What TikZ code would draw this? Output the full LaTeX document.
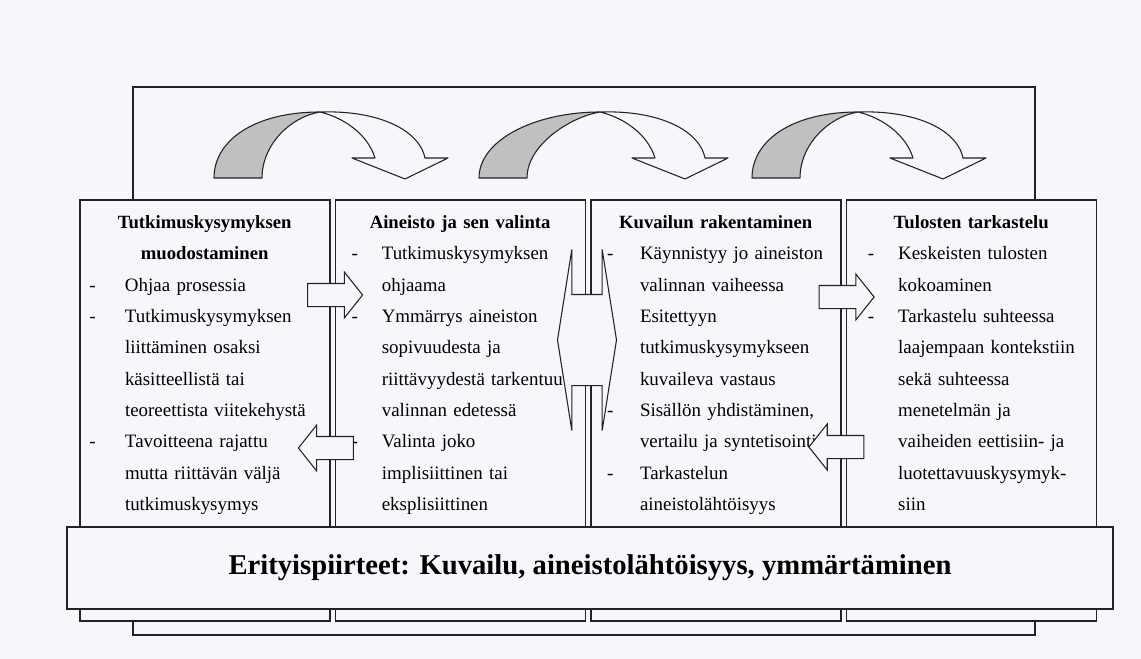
\documentclass[tikz,border=0pt]{standalone}
\usepackage{fontspec}
\setmainfont{Liberation Serif}
\usetikzlibrary{shapes.arrows}

\definecolor{paper}{RGB}{246,246,251}
\definecolor{ink}{RGB}{35,35,35}
\definecolor{shade}{RGB}{192,192,192}

\newcommand\dashgap{20pt}
\newcommand\heading[1]{{\centering\bfseries\fontsize{14}{23.5}\selectfont #1\par}}
\newcommand\dashline{\par\noindent\llap{-\hspace{\dashgap}}}
\newcommand\moreline{\par\noindent}

\begin{document}
\begin{tikzpicture}[x=0.75pt, y=-0.75pt,
    phase/.style={draw=ink, line width=0.9pt, fill=paper, inner sep=0pt,
      minimum width=187.5pt, minimum height=315.75pt},
    phasetext/.style 2 args={anchor=north west, inner sep=0pt, text width=187.5pt,
      font=\fontsize{14.2}{23.5}\selectfont,
      execute at begin node={\raggedright\setlength\parindent{0pt}%
        \setlength\parfillskip{0pt plus 1fil}\setlength\leftskip{#1}\def\dashgap{#2}}},
    band/.style={draw=ink, line width=0.9pt, fill=paper, inner sep=0pt,
      minimum width=784.5pt, minimum height=61.5pt, font=\fontsize{21.5}{26}\selectfont\bfseries},
    blockarrow/.style={single arrow, draw=ink, line width=0.8pt, fill=paper,
      inner xsep=0pt, inner ysep=8.25pt, single arrow head extend=8.6pt,
      minimum height=41.25pt, single arrow tip angle=103},
    twoway/.style={double arrow, draw=ink, line width=0.8pt, fill=paper,
      inner xsep=0pt, inner ysep=33.75pt, double arrow head extend=33.75pt,
      minimum height=44.25pt, double arrow tip angle=162},
    backpart/.style={fill=shade, draw=ink, line width=0.8pt, line join=round},
    frontpart/.style={fill=paper, draw=ink, line width=0.8pt, line join=round}]

  \fill[paper] (0,0) rectangle (1141,659);
  \useasboundingbox (0,0) rectangle (1141,659);

  % frame behind the phases
  \draw[ink, line width=0.9pt] (133,87) rectangle (1035,635);

  % curved arrows on top
  \foreach \dx/\sp in {0/0, 280/15, 538/0} {
    \begin{scope}[shift={(\dx,0)}]
      \filldraw[backpart] ({214-\sp},178) .. controls ({214-\sp},140) and (255,112) .. (320,112)
        .. controls (290,117) and ({262-\sp},145) .. ({262-\sp},178) -- cycle;
      \filldraw[frontpart] (320,112) .. controls (382,110) and (420,132) .. (425,158)
        -- (448,158) -- (405,179) -- (352,158) -- (375,158)
        .. controls (368,135) and (345,118) .. (320,112) -- cycle;
    \end{scope}
  }

  % phases
  \foreach \i/\x in {1/205, 2/460.5, 3/716, 4/971.5}
    \node[phase] (b\i) at (\x,410.5) {};

  \node[phasetext={34pt}{22pt}] (t1) at ([yshift=-12pt]b1.north west) {%
    \heading{Tutkimuskysymyksen\\muodostaminen}
    \dashline Ohjaa prosessia
    \dashline Tutkimuskysymyksen
    \moreline liittäminen osaksi
    \moreline käsitteellistä tai
    \moreline teoreettista viitekehystä
    \dashline Tavoitteena rajattu
    \moreline mutta riittävän väljä
    \moreline tutkimuskysymys};

  \node[phasetext={35pt}{18pt}] (t2) at ([yshift=-12pt]b2.north west) {%
    \heading{Aineisto ja sen valinta}
    \dashline Tutkimuskysymyksen
    \moreline ohjaama
    \dashline Ymmärrys aineiston
    \moreline sopivuudesta ja
    \moreline riittävyydestä tarkentuu
    \moreline valinnan edetessä
    \dashline Valinta joko
    \moreline implisiittinen tai
    \moreline eksplisiittinen};

  \node[phasetext={37pt}{20pt}] (t3) at ([yshift=-12pt]b3.north west) {%
    \heading{Kuvailun rakentaminen}
    \dashline Käynnistyy jo aineiston
    \moreline valinnan vaiheessa
    \dashline Esitettyyn
    \moreline tutkimuskysymykseen
    \moreline kuvaileva vastaus
    \dashline Sisällön yhdistäminen,
    \moreline vertailu ja syntetisointi
    \dashline Tarkastelun
    \moreline aineistolähtöisyys};

  \node[phasetext={39pt}{18pt}] (t4) at ([yshift=-12pt]b4.north west) {%
    \heading{Tulosten tarkastelu}
    \dashline Keskeisten tulosten
    \moreline kokoaminen
    \dashline Tarkastelu suhteessa
    \moreline laajempaan kontekstiin
    \moreline sekä suhteessa
    \moreline menetelmän ja
    \moreline vaiheiden eettisiin- ja
    \moreline luotettavuuskysymyk-
    \moreline siin};

  \node[band] (traits) at (590,568) {Erityispiirteet: Kuvailu, aineistolähtöisyys, ymmärtäminen};

  % arrows between phases
  \node[blockarrow] (a12) at (330.5,295) {};
  \node[blockarrow, shape border rotate=180] (a21) at (330.5,448) {};
  \node[twoway] (a23) at (587,340) {};
  \node[blockarrow] (a34) at (842,297) {};
  \node[blockarrow, shape border rotate=180] (a43) at (841,447) {};
\end{tikzpicture}
\end{document}
